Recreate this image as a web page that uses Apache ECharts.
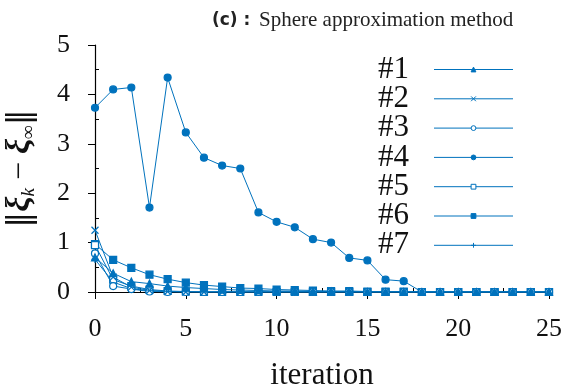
<!DOCTYPE html>
<html><head><meta charset="utf-8">
<script src="https://cdn.jsdelivr.net/npm/echarts@6/dist/echarts.min.js"></script>
<style>html,body{margin:0;padding:0;background:#fff}#c{width:564px;height:387px}</style>
</head><body><div id="c"></div>
<script>
const iterations = Array.from({length: 26}, (_, i) => i);
const seriesNames = ['#1', '#2', '#3', '#4', '#5', '#6', '#7'];
const s1 = [0.70, 0.38, 0.21, 0.17, 0.12, 0.09, 0.07, 0.05, 0.04, 0.03, 0.02, 0.02, 0.01, 0.01, 0.01, 0, 0, 0, 0, 0, 0, 0, 0, 0, 0, 0];
const s2 = [1.25, 0.30, 0.10, 0.03, 0.01, 0, 0, 0, 0, 0, 0, 0, 0, 0, 0, 0, 0, 0, 0, 0, 0, 0, 0, 0, 0, 0];
const s3 = [0.78, 0.12, 0.06, 0.01, 0, 0, 0, 0, 0, 0, 0, 0, 0, 0, 0, 0, 0, 0, 0, 0, 0, 0, 0, 0, 0, 0];
const s4 = [3.73, 4.10, 4.14, 1.71, 4.34, 3.23, 2.72, 2.56, 2.50, 1.61, 1.42, 1.31, 1.07, 1.00, 0.69, 0.64, 0.25, 0.22, 0, 0, 0, 0, 0, 0, 0, 0];
const s5 = [0.95, 0.25, 0.12, 0.05, 0.02, 0.01, 0, 0, 0, 0, 0, 0, 0, 0, 0, 0, 0, 0, 0, 0, 0, 0, 0, 0, 0, 0];
const s6 = [0.97, 0.65, 0.49, 0.35, 0.26, 0.19, 0.14, 0.11, 0.08, 0.07, 0.05, 0.04, 0.03, 0.02, 0.02, 0.01, 0.01, 0.01, 0, 0, 0, 0, 0, 0, 0, 0];
const s7 = [0.66, 0.20, 0.07, 0.02, 0.01, 0, 0, 0, 0, 0, 0, 0, 0, 0, 0, 0, 0, 0, 0, 0, 0, 0, 0, 0, 0, 0];
const xTicks = [0, 5, 10, 15, 20, 25];
const yTicks = [0, 1, 2, 3, 4, 5];

const allValues = [s1, s2, s3, s4, s5, s6, s7];
const C = '#0072bd';
const SERIF = '"Liberation Serif", "DejaVu Serif", serif';
const symbols = [
  {symbol: 'triangle', size: 7, fill: C},
  {symbol: 'path://M0,0L2,2M2,0L0,2', size: 7, fill: 'none'},
  {symbol: 'circle', size: 7, fill: '#fff'},
  {symbol: 'circle', size: 7, fill: C},
  {symbol: 'rect', size: 7, fill: '#fff'},
  {symbol: 'rect', size: 7, fill: C},
  {symbol: 'path://M1,0L1,2M0,1L2,1', size: 7, fill: 'none'}
];

const series = seriesNames.map((name, k) => ({
  name: name,
  type: 'line',
  xAxisIndex: 0, yAxisIndex: 0,
  data: iterations.map((x, i) => [x, allValues[k][i]]),
  symbol: symbols[k].symbol,
  symbolSize: symbols[k].size,
  showAllSymbol: true,
  lineStyle: {color: C, width: 1},
  itemStyle: {color: symbols[k].fill, borderColor: C, borderWidth: 1.2},
  emphasis: {disabled: true},
  z: 10 - k
}));

const chart = echarts.init(document.getElementById('c'), null, {renderer: 'canvas'});
chart.setOption({
  animation: false,
  backgroundColor: '#fff',
  title: [{
    text: '(c) :',
    left: 207, top: 7,
    textStyle: {fontFamily: '"DejaVu Sans", sans-serif', fontWeight: 'bold', fontSize: 17, color: '#222'}
  }, {
    text: 'Sphere approximation method',
    left: 254, top: 5,
    textStyle: {fontFamily: SERIF, fontWeight: 'normal', fontSize: 21, color: '#222'}
  }],
  legend: {
    orient: 'vertical',
    left: 373, top: 49,
    align: 'right',
    itemWidth: 79, itemHeight: 6,
    itemGap: -1.7,
    data: seriesNames,
    textStyle: {fontFamily: SERIF, fontSize: 31, color: '#111', padding: [0, 20, 0, 0]},
    lineStyle: {width: 1},
    itemStyle: {borderWidth: 1},
    inactiveColor: '#ccc'
  },
  grid: {left: 95, right: 15, top: 45, bottom: 95, outerBoundsMode: 'none', containLabel: false},
  xAxis: [{
    type: 'value', min: 0, max: 25, interval: 5,
    name: 'iteration', nameLocation: 'middle', nameGap: 68,
    nameTextStyle: {fontFamily: SERIF, fontSize: 31, color: '#111'},
    axisLine: {lineStyle: {color: '#000', width: 1.2}},
    axisTick: {show: true, inside: false, length: 7, lineStyle: {color: '#000'}},
    axisLabel: {fontFamily: SERIF, fontSize: 26, color: '#111', margin: 24,
      customValues: xTicks},
    splitLine: {show: false}
  }, {
    type: 'value', min: 0, max: 25, interval: 2.5, position: 'bottom',
    gridIndex: 0,
    axisLine: {show: false},
    axisTick: {show: true, inside: true, length: 4, lineStyle: {color: '#000'},
      customValues: [2.5, 7.5, 12.5, 17.5, 22.5]},
    axisLabel: {show: false},
    splitLine: {show: false}
  }],
  yAxis: [{
    type: 'value', min: 0, max: 5, interval: 1,
    name: '{b|‖}{x|ξ}{s|k}{t| − }{x|ξ}{s|∞}{b|‖}',
    nameLocation: 'middle', nameRotate: 90, nameGap: 57,
    nameTextStyle: {
      color: '#111',
      rich: {
        b: {fontFamily: '"DejaVu Serif", serif', fontSize: 32, color: '#111'},
        x: {fontFamily: SERIF, fontSize: 34, fontStyle: 'italic', fontWeight: 'bold', color: '#111'},
        s: {fontFamily: SERIF, fontSize: 19, fontStyle: 'italic', color: '#111', verticalAlign: 'bottom', padding: [16, 0, 0, 0]},
        t: {fontFamily: SERIF, fontSize: 32, color: '#111'}
      }
    },
    axisLine: {show: true, lineStyle: {color: '#000', width: 1.2}},
    axisTick: {show: true, inside: false, length: 7, lineStyle: {color: '#000'}},
    axisLabel: {fontFamily: SERIF, fontSize: 26, color: '#111', margin: 25,
      customValues: yTicks},
    splitLine: {show: false}
  }, {
    type: 'value', min: 0, max: 5, interval: 0.5, position: 'left', gridIndex: 0,
    axisLine: {show: false},
    axisTick: {show: true, inside: true, length: 4, lineStyle: {color: '#000'},
      customValues: [0.5, 1.5, 2.5, 3.5, 4.5]},
    axisLabel: {show: false},
    splitLine: {show: false}
  }],
  series: series
});
</script>
</body></html>
